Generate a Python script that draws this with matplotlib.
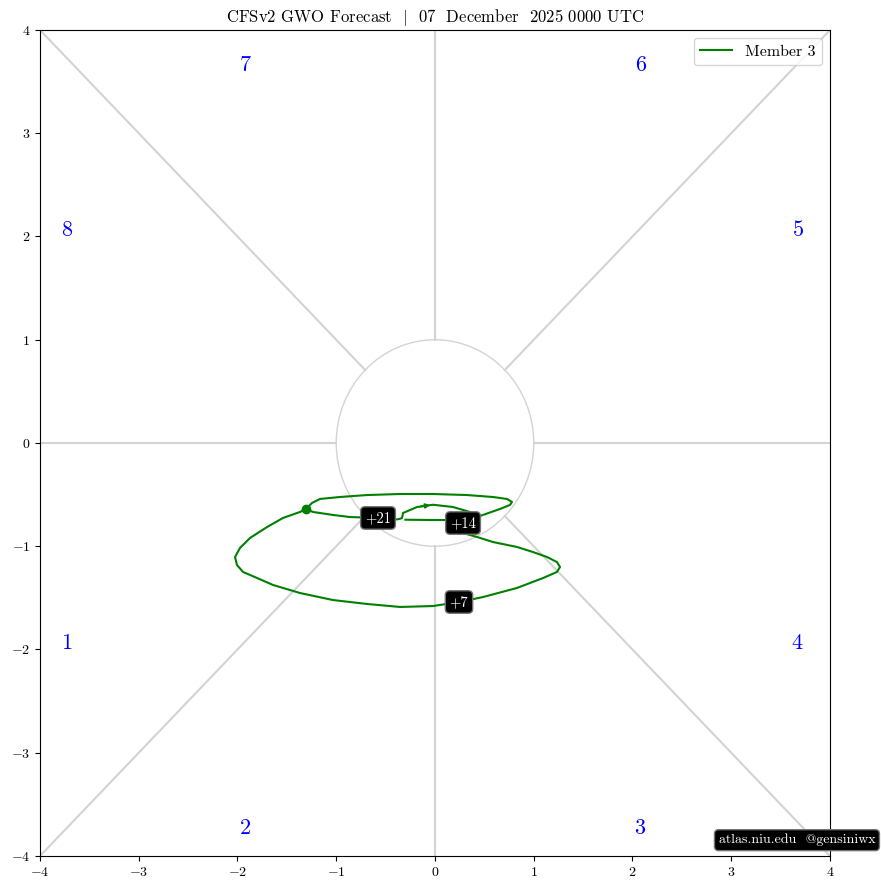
"""CFSv2 GWO phase-space forecast plot (single member)."""

import matplotlib
matplotlib.use("Agg")
import matplotlib.pyplot as plt
import numpy as np
from matplotlib.patches import Circle

plt.rcParams["font.family"] = "serif"
plt.rcParams["font.serif"] = ["cmr10"]
plt.rcParams["mathtext.fontset"] = "cm"
plt.rcParams["axes.formatter.use_mathtext"] = True

# track of member 3 (GWO phase space), day 0 at the first point
track_x = [-1.306, -1.367, -1.539, -1.701, -1.873, -1.975, -2.025, -2.005, -1.944, -1.803,
           -1.641, -1.367, -1.033, -0.689, -0.354, -0.020, 0.243, 0.486, 0.830, 1.094,
           1.235, 1.266, 1.235, 1.134, 0.992, 0.830, 0.587, 0.425, 0.284, 0.284,
           0.456, 0.658, 0.759, 0.780, 0.729, 0.587, 0.324, -0.020, -0.354, -0.689,
           -0.962, -1.165, -1.246, -1.306, -1.235, -1.033, -0.861, -0.577, -0.380, -0.334,
           -0.324, -0.182, -0.020, 0.182, 0.354, 0.425, 0.253, -0.020, -0.300]
track_y = [-0.639, -0.668, -0.726, -0.814, -0.920, -1.017, -1.104, -1.182, -1.249, -1.307,
           -1.375, -1.453, -1.521, -1.559, -1.588, -1.579, -1.540, -1.492, -1.404, -1.308,
           -1.249, -1.201, -1.153, -1.104, -1.056, -1.007, -0.959, -0.910, -0.872, -0.775,
           -0.707, -0.639, -0.600, -0.571, -0.542, -0.523, -0.504, -0.494, -0.494, -0.504,
           -0.523, -0.542, -0.581, -0.639, -0.668, -0.697, -0.717, -0.726, -0.740, -0.728,
           -0.678, -0.620, -0.598, -0.620, -0.668, -0.717, -0.746, -0.746, -0.743]
day_labels = ["+7", "+14", "+21"]
day_index = [16, 29, 47]
arrow_index = 51

phase_names = ["1", "2", "3", "4", "5", "6", "7", "8"]
phase_x = [-3.73, -1.92, 2.07, 3.67, 3.68, 2.08, -1.92, -3.73]
phase_y = [-1.94, -3.73, -3.73, -1.94, 2.06, 3.66, 3.66, 2.06]

fig = plt.figure(figsize=(8.81, 8.90), dpi=100)
ax = fig.add_axes([0.0454, 0.0382, 0.8967, 0.9281])

# phase dividers
for ang in np.arange(0, 360, 45):
    a = np.deg2rad(ang)
    r_out = 4 / max(abs(np.cos(a)), abs(np.sin(a)))
    ax.plot([np.cos(a), r_out * np.cos(a)], [np.sin(a), r_out * np.sin(a)],
            color="lightgray", lw=1.5, zorder=1)
ax.add_patch(Circle((0, 0), 1, fill=False, ec="lightgray", lw=1, zorder=1))

for name, px, py in zip(phase_names, phase_x, phase_y):
    ax.text(px, py, name, color="blue", fontsize=16, ha="center", va="center")

ax.plot(track_x, track_y, color="green", lw=1.5, label="Member 3", zorder=3)
ax.plot(track_x[0], track_y[0], "o", color="green", ms=6, zorder=4)
ax.annotate("", xy=(track_x[arrow_index + 1], track_y[arrow_index + 1]),
            xytext=(track_x[arrow_index], track_y[arrow_index]),
            arrowprops=dict(arrowstyle="-|>", color="green", lw=1.2, mutation_scale=7),
            zorder=4)

for lab, i in zip(day_labels, day_index):
    ax.text(track_x[i], track_y[i], lab, color="white", fontsize=10.5, ha="center", va="center",
            zorder=5, bbox=dict(boxstyle="round,pad=0.3", fc="black", ec="0.45", lw=1))

ax.set_xlim(-4, 4)
ax.set_ylim(-4, 4)
ax.set_xticks(np.arange(-4, 5))
ax.set_yticks(np.arange(-4, 5))
ax.tick_params(labelsize=10)
ax.set_title(r"CFSv2 GWO Forecast  $|$  07  December  2025 0000 UTC", fontsize=12)
ax.legend(loc="upper right", fontsize=11.5)

fig.text(0.9935, 0.056, "atlas.niu.edu  @gensiniwx", color="white", fontsize=10,
         ha="right", va="center",
         bbox=dict(boxstyle="round,pad=0.3", fc="black", ec="0.45", lw=1))

fig.savefig("out.png", dpi=100)
